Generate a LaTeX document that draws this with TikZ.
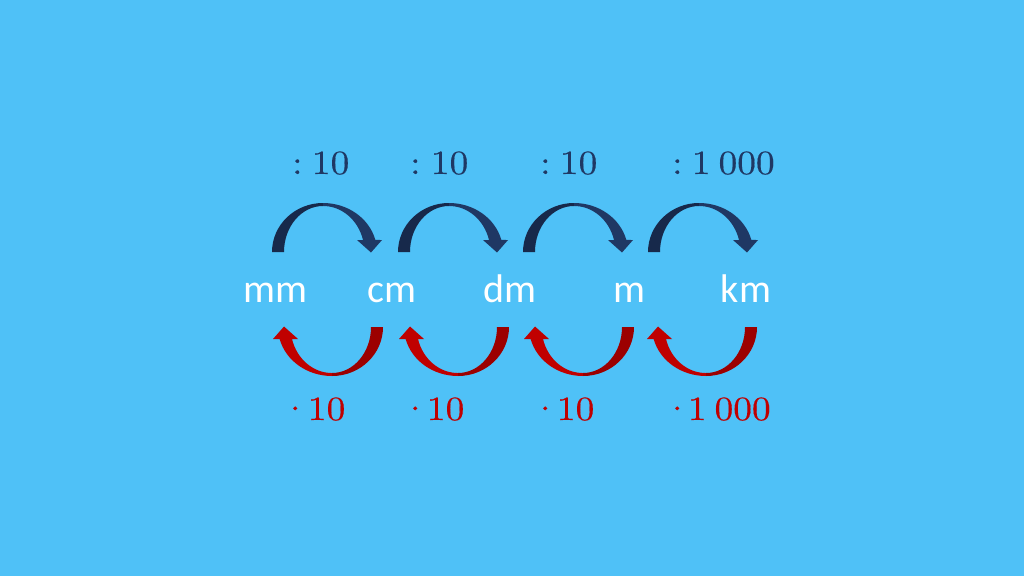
\documentclass[tikz,border=0pt]{standalone}
\usepackage{fontspec}
\newfontfamily\unitfont{Carlito}
\newfontfamily\labelfont[FakeBold=0.4,FakeStretch=1.1]{lmroman10-regular.otf}
\definecolor{bg}{HTML}{4FC1F7}
\definecolor{navy}{HTML}{1F3864}
\definecolor{navydark}{HTML}{17294B}
\definecolor{redlight}{HTML}{C00000}
\definecolor{reddark}{HTML}{9C0000}
\tikzset{
  unit/.style={font=\unitfont\fontsize{40}{48}\selectfont, text=white, anchor=base, inner sep=0pt},
  oplabel/.style={font=\labelfont\fontsize{34}{40}\selectfont, anchor=base west, inner sep=0pt},
  divlabel/.style={oplabel, text=navy},
  mullabel/.style={oplabel, text=redlight},
  pics/bendarrow/.style 2 args={code={
    \fill[#1] (0,0) arc[start angle=180,end angle=270,x radius=51,y radius=49]
      -- (51,-46) arc[start angle=270,end angle=180,x radius=39,y radius=46] -- cycle;
    \fill[#2] (51,-49) arc[start angle=270,end angle=345.8,x radius=54,y radius=49]
      -- (110,-12) -- (99,0.5) -- (85,-12)
      -- (91,-12) arc[start angle=344.9,end angle=270,x radius=41.4,y radius=46] -- cycle;
  }}
}
\begin{document}
\begin{tikzpicture}[x=1pt,y=-1pt]
\fill[bg] (0,0) rectangle (1024,576);
\useasboundingbox (0,0) rectangle (1024,576);
% units
\node[unit] (mm) at (275,302) {mm};
\node[unit] (cm) at (392,302) {cm};
\node[unit] (dm) at (510,302) {dm};
\node[unit] (m)  at (629,302) {m};
\node[unit] (km) at (746,302) {km};
% top arrows
\pic at (272,252) {bendarrow={navydark}{navy}};
\pic at (398,252) {bendarrow={navydark}{navy}};
\pic at (523,252) {bendarrow={navydark}{navy}};
\pic at (648,252) {bendarrow={navydark}{navy}};
% bottom arrows
\pic[rotate=180] at (383,327) {bendarrow={reddark}{redlight}};
\pic[rotate=180] at (509,327) {bendarrow={reddark}{redlight}};
\pic[rotate=180] at (634,327) {bendarrow={reddark}{redlight}};
\pic[rotate=180] at (757,327) {bendarrow={reddark}{redlight}};
% labels
\node[divlabel] (d1) at (291.8,174) {{:}\hspace{9.5pt}10};
\node[divlabel] (d2) at (409.8,174) {{:}\hspace{10.5pt}10};
\node[divlabel] (d3) at (539.8,174) {{:}\hspace{9.5pt}10};
\node[divlabel] (d4) at (671.8,174) {{:}\hspace{9.5pt}1\hspace{8pt}000};
\node[mullabel] (p1) at (295,420) {\makebox[0pt]{·}\hspace{12.7pt}10};
\node[mullabel] (p2) at (415,420) {\makebox[0pt]{·}\hspace{11.7pt}10};
\node[mullabel] (p3) at (545,420) {\makebox[0pt]{·}\hspace{11.7pt}10};
\node[mullabel] (p4) at (677,420) {\makebox[0pt]{·}\hspace{10.7pt}1\hspace{8pt}000};
\end{tikzpicture}
\end{document}
